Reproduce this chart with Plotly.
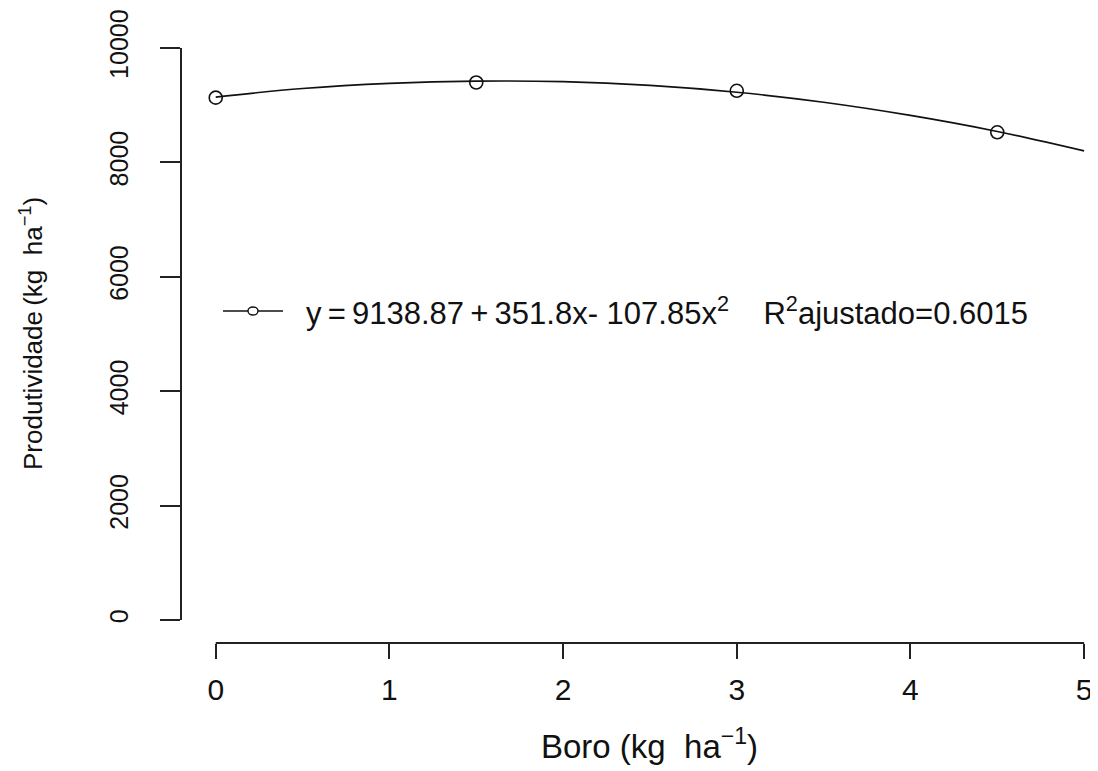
import plotly.graph_objects as go

# Fitted curve
curve_x = [0, 0.5, 1, 1.5, 2, 2.5, 3, 3.5, 4, 4.5, 5]
curve_y = [9140, 9290, 9380, 9420, 9410, 9345, 9225, 9050, 8820, 8540, 8200]

# Observed means
obs_x = [0, 1.5, 3, 4.5]
obs_y = [9130, 9395, 9250, 8525]

x_ticks = [0, 1, 2, 3, 4, 5]
y_ticks = [0, 2000, 4000, 6000, 8000, 10000]

legend_text = ("y\u2009=\u20099138.87\u2009+\u2009351.8x- 107.85x<sup>2</sup>"
               "\u00a0\u00a0\u00a0\u00a0R<sup>2</sup>ajustado=0.6015")
x_title = "Boro (kg\u00a0\u00a0ha<sup>\u22121</sup>)"
y_title = "Produtividade\u2009(kg\u00a0\u00a0ha<sup>\u22121</sup>)"

FONT = "Liberation Sans, Arial, sans-serif"
INK = "#111111"
OFF = 8  # default body margin of the page
W, H = 1098 - OFF, 771 - OFF
ML, MR, MT = 181 - OFF, 0, 25 - OFF
PH = 618
MB = H - MT - PH
PW = W - ML - MR

def px_x(p):  # page pixel -> paper x
    return (p - OFF - ML) / PW

def px_y(p):  # page pixel -> paper y
    return (H - MB - (p - OFF)) / PH

fig = go.Figure()
fig.add_trace(go.Scatter(x=curve_x, y=curve_y, mode="lines",
                         line=dict(color=INK, width=1.6, shape="spline"),
                         showlegend=False, hoverinfo="skip"))
fig.add_trace(go.Scatter(x=obs_x, y=obs_y, mode="markers",
                         marker=dict(symbol="circle-open", size=13,
                                     color=INK, line=dict(width=1.6, color=INK)),
                         showlegend=False))

# Detached R-style axis lines
fig.add_shape(type="line", xref="x", yref="paper",
              x0=x_ticks[0], x1=x_ticks[-1], y0=0, y1=0,
              line=dict(color="#222222", width=2))
fig.add_shape(type="line", xref="paper", yref="y",
              x0=0, x1=0, y0=y_ticks[0], y1=y_ticks[-1],
              line=dict(color="#222222", width=2))

# Legend drawn R-style
ly = px_y(311)
fig.add_shape(type="line", xref="paper", yref="paper",
              x0=px_x(223), x1=px_x(283), y0=ly, y1=ly,
              line=dict(color=INK, width=1.6))
fig.add_shape(type="circle", xref="paper", yref="paper",
              xsizemode="pixel", ysizemode="pixel",
              xanchor=px_x(253), yanchor=ly,
              x0=-5, x1=5, y0=-4, y1=4,
              line=dict(color=INK, width=1.4), fillcolor="white")
fig.add_annotation(text=legend_text, xref="paper", yref="paper",
                   x=px_x(304), y=ly, xanchor="left", yanchor="middle",
                   showarrow=False, font=dict(family=FONT, size=31, color=INK))

# Axis titles
fig.add_annotation(text=x_title, xref="x", yref="paper",
                   x=2.5, y=px_y(744), xanchor="center", yanchor="middle",
                   showarrow=False, font=dict(family=FONT, size=33, color=INK))
fig.add_annotation(text=y_title, xref="paper", yref="y",
                   x=px_x(31), y=5000, xanchor="center", yanchor="middle",
                   textangle=-90, showarrow=False,
                   font=dict(family=FONT, size=26, color=INK))

fig.update_xaxes(range=[-0.2, 5.08], tickvals=x_ticks,
                 ticktext=[str(v) for v in x_ticks],
                 ticks="outside", ticklen=15, tickwidth=2, tickcolor="#222222",
                 showline=False, showgrid=False, zeroline=False,
                 ticklabelstandoff=5,
                 tickfont=dict(family=FONT, size=30, color=INK))
fig.update_yaxes(range=[-400, 10400], tickvals=y_ticks,
                 ticktext=[str(v) for v in y_ticks],
                 ticks="outside", ticklen=20, tickwidth=2, tickcolor="#222222",
                 tickangle=-90,
                 showline=False, showgrid=False, zeroline=False,
                 ticklabelstandoff=22,
                 tickfont=dict(family=FONT, size=25, color=INK))

fig.update_layout(width=W, height=H,
                  margin=dict(l=ML, r=MR, t=MT, b=MB),
                  paper_bgcolor="white", plot_bgcolor="white",
                  showlegend=False)

fig.write_html("out.html")
